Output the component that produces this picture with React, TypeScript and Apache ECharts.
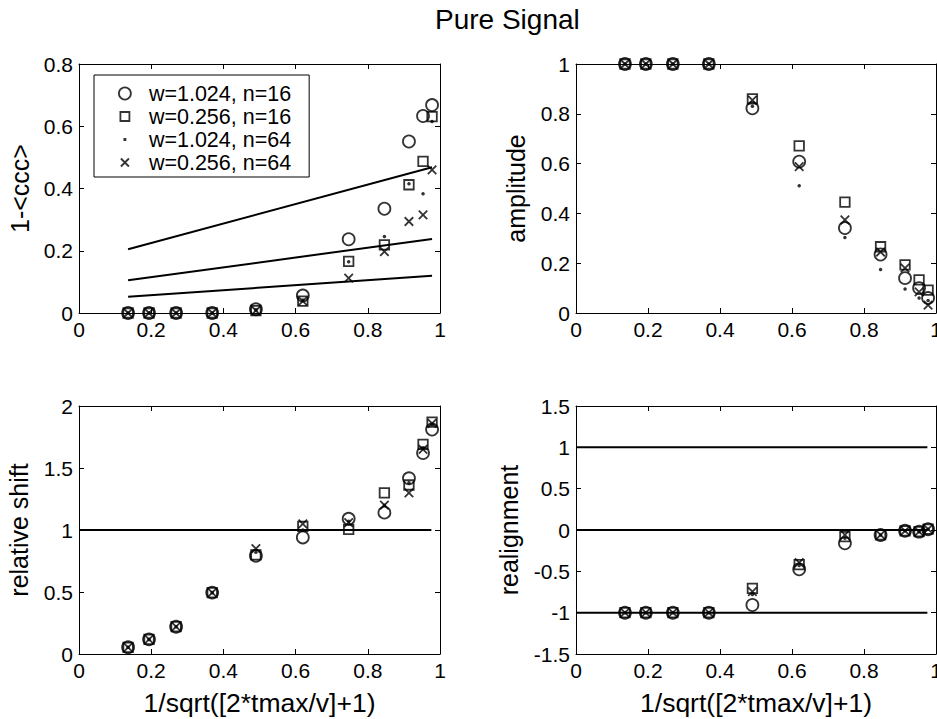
import React, { useEffect, useRef } from "react";
import * as echarts from "echarts";

// ---------- data ----------
const FONT = "'Liberation Sans', Arial, Helvetica, sans-serif";

const xValues = [0.136, 0.194, 0.269, 0.369, 0.49, 0.62, 0.747, 0.846, 0.914, 0.953, 0.978];
const seriesNames = ["w=1.024, n=16", "w=0.256, n=16", "w=1.024, n=64", "w=0.256, n=64"];

// panel 1: 1-<ccc>
const cccCircle = [0, 0, 0, 0, 0.012, 0.056, 0.237, 0.335, 0.551, 0.633, 0.668];
const cccSquare = [0, 0, 0, 0, 0.008, 0.038, 0.166, 0.219, 0.412, 0.487, 0.631];
const cccDot = [0, 0, 0, 0, 0.01, 0.042, 0.165, 0.246, 0.415, 0.383, 0.615];
const cccCross = [0, 0, 0, 0, 0.008, 0.038, 0.112, 0.197, 0.294, 0.315, 0.46];
const cccLineX = [0.136, 0.978];
const cccLineUpper = [0.205, 0.468];
const cccLineMiddle = [0.105, 0.238];
const cccLineLower = [0.052, 0.12];

// panel 2: amplitude
const ampCircle = [1, 1, 1, 1, 0.822, 0.608, 0.341, 0.235, 0.14, 0.1, 0.06];
const ampSquare = [1, 1, 1, 1, 0.86, 0.671, 0.445, 0.266, 0.193, 0.133, 0.092];
const ampDot = [1, 1, 1, 1, 0.83, 0.511, 0.303, 0.175, 0.096, 0.06, 0.05];
const ampCross = [1, 1, 1, 1, 0.855, 0.588, 0.374, 0.245, 0.18, 0.085, 0.032];

// panel 3: relative shift
const shiftCircle = [0.054, 0.118, 0.22, 0.495, 0.793, 0.94, 1.09, 1.14, 1.417, 1.62, 1.81];
const shiftSquare = [0.054, 0.118, 0.22, 0.495, 0.8, 1.03, 1.005, 1.3, 1.363, 1.69, 1.87];
const shiftDot = [0.054, 0.118, 0.22, 0.495, 0.82, 1.0, 1.07, 1.2, 1.38, 1.66, 1.85];
const shiftCross = [0.054, 0.118, 0.22, 0.495, 0.85, 1.05, 1.06, 1.2, 1.3, 1.65, 1.86];
const refLineX = [0, 0.976];
const shiftRefLevels = [1];

// panel 4: realignment
const realCircle = [-1, -1, -1, -1, -0.907, -0.476, -0.16, -0.06, -0.01, -0.02, 0.01];
const realSquare = [-1, -1, -1, -1, -0.706, -0.42, -0.08, -0.06, -0.01, -0.02, 0.01];
const realDot = [-1, -1, -1, -1, -0.78, -0.43, -0.1, -0.06, -0.01, -0.02, 0.01];
const realCross = [-1, -1, -1, -1, -0.746, -0.395, -0.06, -0.06, -0.01, -0.02, 0.01];
const realRefLevels = [1, 0, -1];

// tick labels
const xTicks = [0, 0.2, 0.4, 0.6, 0.8, 1];
const cccTicks = [0, 0.2, 0.4, 0.6, 0.8];
const ampTicks = [0, 0.2, 0.4, 0.6, 0.8, 1];
const shiftTicks = [0, 0.5, 1, 1.5, 2];
const realTicks = [-1.5, -1, -0.5, 0, 0.5, 1, 1.5];

const titleText = "Pure Signal";
const xAxisName = "1/sqrt([2*tmax/v]+1)";

// ---------- styling ----------
const SQUARE = "path://M0,0H10V10H0Z";
const CROSS = "path://M0,0L10,10M10,0L0,10";
const SQUARE_LEGEND = "path://M0,0L0.01,0M12,12L11.99,12M1.5,1.5H10.5V10.5H1.5Z";
const DOT_LEGEND = "path://M0,0L0.01,0M12,12L11.99,12M4.6,4.6H7.4V7.4H4.6Z";
const CROSS_LEGEND = "path://M0,0L0.01,0M12,12L11.99,12M2,2L10,10M10,2L2,10";

const markerDefs = [
  { symbol: "circle", size: 12, itemStyle: { color: "rgba(0,0,0,0)", borderColor: "#000", borderWidth: 1.8 } },
  { symbol: SQUARE, size: 9.5, itemStyle: { color: "rgba(0,0,0,0)", borderColor: "#000", borderWidth: 1.8 } },
  { symbol: "circle", size: 3.5, itemStyle: { color: "#000", borderWidth: 0 } },
  { symbol: CROSS, size: 8.5, itemStyle: { color: "rgba(0,0,0,0)", borderColor: "#000", borderWidth: 1.8 } },
];

type Panel = {
  grid: { left: number; top: number; width: number; height: number };
  yTicks: number[];
  yName: string;
  yNameGap: number;
  xName: string;
  values: number[][];
  lines: { x: number[]; y: number[] }[];
};

const panels: Panel[] = [
  {
    grid: { left: 79, top: 64, width: 361, height: 249 },
    yTicks: cccTicks,
    yName: "1-<ccc>",
    yNameGap: 59,
    xName: "",
    values: [cccCircle, cccSquare, cccDot, cccCross],
    lines: [
      { x: cccLineX, y: cccLineUpper },
      { x: cccLineX, y: cccLineMiddle },
      { x: cccLineX, y: cccLineLower },
    ],
  },
  {
    grid: { left: 576, top: 64, width: 360, height: 249 },
    yTicks: ampTicks,
    yName: "amplitude",
    yNameGap: 60,
    xName: "",
    values: [ampCircle, ampSquare, ampDot, ampCross],
    lines: [],
  },
  {
    grid: { left: 79, top: 406, width: 361, height: 248 },
    yTicks: shiftTicks,
    yName: "relative shift",
    yNameGap: 60,
    xName: xAxisName,
    values: [shiftCircle, shiftSquare, shiftDot, shiftCross],
    lines: shiftRefLevels.map((lv) => ({ x: refLineX, y: refLineX.map(() => lv) })),
  },
  {
    grid: { left: 576, top: 406, width: 360, height: 248 },
    yTicks: realTicks,
    yName: "realignment",
    yNameGap: 67,
    xName: xAxisName,
    values: [realCircle, realSquare, realDot, realCross],
    lines: realRefLevels.map((lv) => ({ x: refLineX, y: refLineX.map(() => lv) })),
  },
];

const tickStyle = { show: true, inside: true, length: 5, lineStyle: { color: "#000", width: 1 } };
const lineStyleAxis = { show: true, onZero: false, lineStyle: { color: "#000", width: 1 } };
const labelStyle = { color: "#000", fontSize: 21, fontFamily: FONT };

function buildOption() {
  const grid: any[] = [];
  const xAxis: any[] = [];
  const yAxis: any[] = [];
  const series: any[] = [];

  panels.forEach((p, i) => {
    grid.push({ ...p.grid, show: false, containLabel: false, outerBoundsMode: "none" });
    const xMin = xTicks[0];
    const xMax = xTicks[xTicks.length - 1];
    const xInt = xTicks[1] - xTicks[0];
    const yMin = p.yTicks[0];
    const yMax = p.yTicks[p.yTicks.length - 1];
    const yInt = p.yTicks[1] - p.yTicks[0];

    // bottom x axis
    xAxis.push({
      type: "value",
      gridIndex: i,
      position: "bottom",
      min: xMin,
      max: xMax,
      interval: xInt,
      axisLine: lineStyleAxis,
      axisTick: tickStyle,
      splitLine: { show: false },
      axisLabel: { ...labelStyle, margin: 6, showMinLabel: true, showMaxLabel: true },
      name: p.xName,
      nameLocation: "middle",
      nameGap: 49,
      nameTextStyle: { color: "#000", fontSize: 26.5, fontFamily: FONT, verticalAlign: "middle" },
    });
    // top x axis (ticks only)
    xAxis.push({
      type: "value",
      gridIndex: i,
      position: "top",
      min: xMin,
      max: xMax,
      interval: xInt,
      axisLine: lineStyleAxis,
      axisTick: tickStyle,
      splitLine: { show: false },
      axisLabel: { show: false },
    });
    // left y axis
    yAxis.push({
      type: "value",
      gridIndex: i,
      position: "left",
      min: yMin,
      max: yMax,
      interval: yInt,
      axisLine: lineStyleAxis,
      axisTick: tickStyle,
      splitLine: { show: false },
      axisLabel: { ...labelStyle, margin: 6, showMinLabel: true, showMaxLabel: true },
      name: p.yName,
      nameLocation: "middle",
      nameGap: p.yNameGap,
      nameTextStyle: { color: "#000", fontSize: 25, fontFamily: FONT, verticalAlign: "middle" },
    });
    // right y axis (ticks only)
    yAxis.push({
      type: "value",
      gridIndex: i,
      position: "right",
      min: yMin,
      max: yMax,
      interval: yInt,
      axisLine: lineStyleAxis,
      axisTick: tickStyle,
      splitLine: { show: false },
      axisLabel: { show: false },
    });

    const xIdx = i * 2;
    const yIdx = i * 2;

    p.lines.forEach((ln, k) => {
      series.push({
        type: "line",
        name: `ref-${i}-${k}`,
        xAxisIndex: xIdx,
        yAxisIndex: yIdx,
        data: ln.x.map((x, j) => [x, ln.y[j]]),
        symbol: "none",
        lineStyle: { color: "#000", width: 2 },
        clip: false,
        silent: true,
        z: 1,
      });
    });

    p.values.forEach((vals, s) => {
      const m = markerDefs[s];
      series.push({
        type: "scatter",
        name: seriesNames[s],
        xAxisIndex: xIdx,
        yAxisIndex: yIdx,
        data: xValues.map((x, j) => [x, vals[j]]),
        symbol: m.symbol,
        symbolSize: m.size,
        itemStyle: m.itemStyle,
        clip: false,
        silent: true,
        emphasis: { disabled: true },
        z: 3,
      });
    });
  });

  return {
    animation: false,
    backgroundColor: "#fff",
    textStyle: { fontFamily: FONT },
    title: {
      text: titleText,
      left: 435,
      top: 5,
      padding: 0,
      textStyle: { color: "#000", fontSize: 28, fontWeight: "normal", fontFamily: FONT },
    },
    legend: {
      data: [
        { name: seriesNames[0], icon: "circle" },
        { name: seriesNames[1], icon: SQUARE_LEGEND },
        { name: seriesNames[2], icon: DOT_LEGEND, itemStyle: { borderWidth: 0 } },
        { name: seriesNames[3], icon: CROSS_LEGEND },
      ],
      orient: "vertical",
      left: 94,
      top: 75,
      itemWidth: 38,
      itemHeight: 12,
      itemGap: 0,
      padding: [7, 18, 3, 24],
      borderColor: "#000",
      borderWidth: 1,
      borderRadius: 0,
      backgroundColor: "#fff",
      selectedMode: false,
      symbolKeepAspect: true,
      itemStyle: { borderWidth: 1.8 },
      textStyle: { color: "#000", fontSize: 21.5, fontFamily: FONT, lineHeight: 23 },
      z: 10,
    },
    grid,
    xAxis,
    yAxis,
    series,
  };
}

export default function App() {
  const ref = useRef<HTMLDivElement | null>(null);
  useEffect(() => {
    if (!ref.current) return;
    const chart = echarts.init(ref.current, undefined, { renderer: "svg" });
    chart.setOption(buildOption() as any);
    return () => chart.dispose();
  }, []);
  return (
    <div
      ref={ref}
      style={{ position: "absolute", left: 0, top: 0, width: 937, height: 719, background: "#fff" }}
    />
  );
}
